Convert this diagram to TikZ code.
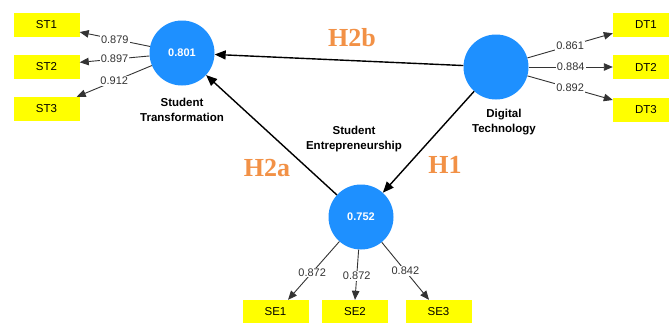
\documentclass[tikz,border=0pt]{standalone}
\usepackage{fontspec}
\setmainfont{Liberation Sans}
\newfontfamily\hfont{Liberation Serif}
\usetikzlibrary{arrows.meta,calc}
\definecolor{lv}{RGB}{30,144,255}
\definecolor{ind}{RGB}{255,255,0}
\definecolor{hyp}{RGB}{242,145,70}
\definecolor{ld}{RGB}{51,51,51}
\begin{document}
\begin{tikzpicture}[x=1pt,y=-1pt,
 lvnode/.style={circle,fill=lv,minimum size=65pt,inner sep=0pt,text=white,font=\bfseries\fontsize{11}{13}\selectfont},
 indbox/.style={rectangle,fill=ind,minimum width=66pt,minimum height=24pt,inner sep=0pt,font=\fontsize{11.5}{13}\selectfont},
 lvlabel/.style={align=center,font=\bfseries\fontsize{11.5}{15}\selectfont},
 loading/.style={draw=ld,line width=0.9pt,-{Triangle[length=9pt,width=7.5pt]}},
 lval/.style={fill=white,inner sep=1pt,text=ld,font=\fontsize{11}{13}\selectfont,pos=0.5},
 pathc/.style={draw=black,line width=1.4pt,-{Triangle[length=11pt,width=9pt]}},
 hyplabel/.style={text=hyp,font=\hfont\bfseries\fontsize{26}{28}\selectfont}]
\useasboundingbox[fill=white] (0,0) rectangle (669,322);
% latent variables
\node[lvnode] (stc) at (182,53) {0.801};
\node[lvnode] (dtc) at (496,67) {};
\node[lvnode] (sec) at (361,217) {0.752};
% labels
\node[lvlabel] (stl) at (182,110) {Student\\Transformation};
\node[lvlabel] (sel) at (354,139.5) {Student\\Entrepreneurship};
\node[lvlabel] (dtl) at (504,122) {Digital\\Technology};
% indicators
\node[indbox] (st1) at (46.5,25) {ST1};
\node[indbox] (st2) at (46.5,67) {ST2};
\node[indbox] (st3) at (46.5,109) {ST3};
\node[indbox] (dt1) at (646,25) {DT1};
\node[indbox] (dt2) at (646,67) {DT2};
\node[indbox] (dt3) at (646,109.5) {DT3};
\node[indbox] (se1) at (275.5,312) {SE1};
\node[indbox] (se2) at (355,312) {SE2};
\node[indbox] (se3) at (438.5,312) {SE3};
% loadings
\draw[loading] (stc) -- (st1.-12) node[lval] {0.879};
\draw[loading] (stc) -- (st2.8.5) node[lval] {0.897};
\draw[loading] (stc) -- (st3.22.8) node[lval] {0.912};
\draw[loading] (dtc) -- (dt1.194) node[lval] {0.861};
\draw[loading] (dtc) -- (dt2.west) node[lval] {0.884};
\draw[loading] (dtc) -- (dt3.164) node[lval] {0.892};
\coordinate (se1t) at ($(se1.north)+(12.5,0)$);
\coordinate (se3t) at ($(se3.north)+(-9.5,0)$);
\draw[loading] (sec) -- (se1t) node[lval,pos=0.53] {0.872};
\draw[loading] (sec) -- (se2.north) node[lval,pos=0.52] {0.872};
\draw[loading] (sec) -- (se3t) node[lval,pos=0.5] {0.842};
% structural paths
\draw[pathc] (dtc) -- (stc);
\draw[pathc] (dtc) -- (sec);
\draw[pathc] (sec) -- (stc);
% hypotheses
\node[hyplabel] (h2b) at (352,38) {H2b};
\node[hyplabel] (h2a) at (267,168) {H2a};
\node[hyplabel] (h1) at (445,165) {H1};
\end{tikzpicture}
\end{document}
